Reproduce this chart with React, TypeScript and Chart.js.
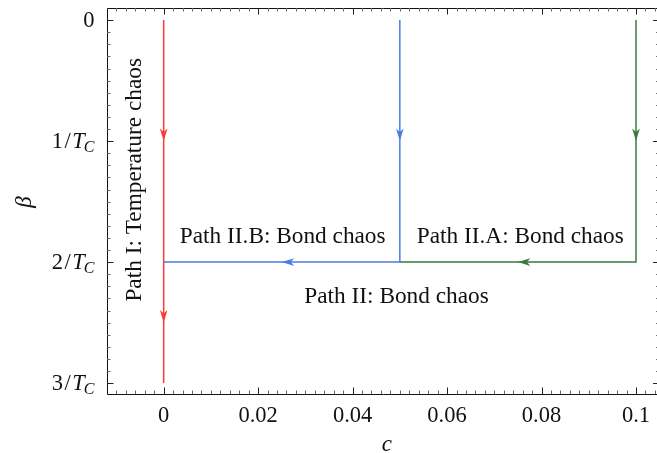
import { useEffect, useRef } from "react";
import { Chart, registerables } from "chart.js";

Chart.register(...registerables);

// ---- axis ranges & ticks ----
const X_MIN = -0.012;
const X_MAX = 0.105;
const Y_MIN = -0.1;
const Y_MAX = 3.09;
const xMajorTicks = [0, 0.02, 0.04, 0.06, 0.08, 0.1];
const xTickLabels = ["0", "0.02", "0.04", "0.06", "0.08", "0.1"];
const xMinorStep = 0.002;
const yMajorTicks = [0, 1, 2, 3];
const yTickNumerators = ["0", "1", "2", "3"]; // rendered as "0", "1/T_C", "2/T_C", "3/T_C"
const yMinorStep = 0.1;

// ---- paths (c, beta in units of 1/T_C) ----
const pathIX = [0, 0];
const pathIY = [0, 3];
const pathIIBX = [0.05, 0.05, 0];
const pathIIBY = [0, 2, 2];
const pathIIAX = [0.1, 0.1, 0.05];
const pathIIAY = [0, 2, 2];

const pathColors = ["#ff3838", "#4a7bea", "#3a7a3a"];

// arrows: x, y, direction
const arrowsI = [
  { x: 0, y: 1, dir: "down" },
  { x: 0, y: 2.5, dir: "down" },
];
const arrowsIIB = [
  { x: 0.05, y: 1, dir: "down" },
  { x: 0.025, y: 2, dir: "left" },
];
const arrowsIIA = [
  { x: 0.1, y: 1, dir: "down" },
  { x: 0.075, y: 2, dir: "left" },
];

// annotations
const annotations = [
  { text: "Path II.B: Bond chaos", x: 0.0252, y: 1.84, rotate: false },
  { text: "Path II.A: Bond chaos", x: 0.0755, y: 1.84, rotate: false },
  { text: "Path II: Bond chaos", x: 0.0493, y: 2.336, rotate: false },
  { text: "Path I: Temperature chaos", x: -0.0047, y: 1.32, rotate: true },
];

const SERIF = "'Liberation Serif', 'Times New Roman', serif";
const W = 662;
const H = 453;

function toPoints(xs: number[], ys: number[]) {
  return xs.map((x, i) => ({ x, y: ys[i] }));
}

function drawArrow(ctx: CanvasRenderingContext2D, px: number, py: number, dir: string, color: string) {
  const ang = dir === "down" ? Math.PI / 2 : dir === "left" ? Math.PI : dir === "up" ? -Math.PI / 2 : 0;
  ctx.save();
  ctx.translate(px, py);
  ctx.rotate(ang);
  ctx.beginPath();
  ctx.moveTo(0, 0);
  ctx.lineTo(-12.5, -3.8);
  ctx.lineTo(-9, 0);
  ctx.lineTo(-12.5, 3.8);
  ctx.closePath();
  ctx.fillStyle = color;
  ctx.fill();
  ctx.restore();
}

const decorPlugin = {
  id: "decor",
  afterDatasetsDraw(chart: any) {
    const ctx: CanvasRenderingContext2D = chart.ctx;
    const xs = chart.scales.x;
    const ys = chart.scales.y;
    const area = chart.chartArea;
    const right = xs.getPixelForValue(X_MAX);

    // arrows
    const arrowSets = [arrowsI, arrowsIIB, arrowsIIA];
    arrowSets.forEach((set, i) => {
      set.forEach((a) => {
        drawArrow(ctx, xs.getPixelForValue(a.x), ys.getPixelForValue(a.y), a.dir, pathColors[i]);
      });
    });

    // frame (left, top, bottom; right edge lies just outside the picture)
    ctx.save();
    ctx.strokeStyle = "#111";
    ctx.lineWidth = 1;
    const L = Math.round(area.left) + 0.5;
    const T = Math.round(area.top) + 0.5;
    const B = Math.round(area.bottom) + 0.5;
    ctx.beginPath();
    ctx.moveTo(right, T);
    ctx.lineTo(L, T);
    ctx.lineTo(L, B);
    ctx.lineTo(right, B);
    ctx.stroke();

    // ticks
    const tickX = (v: number, len: number, color: string) => {
      const px = Math.round(xs.getPixelForValue(v)) + 0.5;
      ctx.strokeStyle = color;
      ctx.beginPath();
      ctx.moveTo(px, area.bottom);
      ctx.lineTo(px, area.bottom - len);
      ctx.moveTo(px, area.top);
      ctx.lineTo(px, area.top + len);
      ctx.stroke();
    };
    const tickY = (v: number, len: number, color: string) => {
      const py = Math.round(ys.getPixelForValue(v)) + 0.5;
      ctx.strokeStyle = color;
      ctx.beginPath();
      ctx.moveTo(area.left, py);
      ctx.lineTo(area.left + len, py);
      ctx.moveTo(right, py);
      ctx.lineTo(right - len, py);
      ctx.stroke();
    };
    for (let i = -10; i < 60; i++) {
      const v = Math.round(i * xMinorStep * 1e6) / 1e6;
      if (v <= X_MIN || v >= X_MAX) continue;
      tickX(v, 3.5, "#666");
    }
    xMajorTicks.forEach((v) => tickX(v, 6.5, "#222"));
    for (let i = -5; i < 40; i++) {
      const v = Math.round(i * yMinorStep * 1e6) / 1e6;
      if (v <= Y_MIN || v >= Y_MAX) continue;
      tickY(v, 3.5, "#666");
    }
    yMajorTicks.forEach((v) => tickY(v, 6.5, "#222"));

    // x tick labels
    ctx.fillStyle = "#111";
    ctx.font = `22.5px ${SERIF}`;
    ctx.textAlign = "center";
    ctx.textBaseline = "alphabetic";
    xMajorTicks.forEach((v, i) => {
      ctx.fillText(xTickLabels[i], xs.getPixelForValue(v), area.bottom + 28);
    });

    // y tick labels
    const rightEdge = 94.5;
    yMajorTicks.forEach((v, i) => {
      const base = ys.getPixelForValue(v) + 7;
      const num = yTickNumerators[i];
      ctx.textAlign = "left";
      if (num === "0") {
        ctx.font = `22.5px ${SERIF}`;
        const w = ctx.measureText("0").width;
        ctx.fillText("0", rightEdge - w, base);
        return;
      }
      ctx.font = `22.5px ${SERIF}`;
      const wn = ctx.measureText(num).width;
      const ws = ctx.measureText("/").width;
      ctx.font = `italic 22.5px ${SERIF}`;
      const w2 = ctx.measureText("T").width;
      ctx.font = `italic 16px ${SERIF}`;
      const w3 = ctx.measureText("C").width;
      const gap = 1.5;
      const total = wn + gap + ws + gap + w2 - 1 + w3;
      let x0 = rightEdge - total;
      ctx.font = `22.5px ${SERIF}`;
      ctx.fillText(num, x0, base);
      x0 += wn + gap;
      ctx.fillText("/", x0, base);
      x0 += ws + gap;
      ctx.font = `italic 22.5px ${SERIF}`;
      ctx.fillText("T", x0, base);
      x0 += w2 - 1;
      ctx.font = `italic 16px ${SERIF}`;
      ctx.fillText("C", x0, base + 4);
    });

    // axis titles
    ctx.font = `italic 23px ${SERIF}`;
    ctx.textAlign = "center";
    ctx.textBaseline = "alphabetic";
    ctx.fillText("c", xs.getPixelForValue(0.04725), area.bottom + 57);
    ctx.save();
    ctx.translate(25, (area.top + area.bottom) / 2 + 1);
    ctx.rotate(-Math.PI / 2);
    ctx.textBaseline = "middle";
    ctx.fillText("β", 0, 0);
    ctx.restore();

    // annotations
    ctx.font = `23.3px ${SERIF}`;
    annotations.forEach((a) => {
      const px = xs.getPixelForValue(a.x);
      const py = ys.getPixelForValue(a.y);
      if (a.rotate) {
        ctx.save();
        ctx.translate(px, py);
        ctx.rotate(-Math.PI / 2);
        ctx.textAlign = "center";
        ctx.textBaseline = "alphabetic";
        ctx.fillText(a.text, 0, 0);
        ctx.restore();
      } else {
        ctx.textAlign = "center";
        ctx.textBaseline = "alphabetic";
        ctx.fillText(a.text, px, py);
      }
    });
    ctx.restore();
  },
};

export default function App() {
  const ref = useRef<HTMLCanvasElement | null>(null);
  useEffect(() => {
    document.body.style.overflow = "hidden";
    const canvas = ref.current!;
    const chart = new Chart(canvas, {
      type: "scatter",
      data: {
        datasets: [
          { data: toPoints(pathIX, pathIY), borderColor: pathColors[0] },
          { data: toPoints(pathIIBX, pathIIBY), borderColor: pathColors[1] },
          { data: toPoints(pathIIAX, pathIIAY), borderColor: pathColors[2] },
        ].map((d) => ({
          ...d,
          showLine: true,
          borderWidth: 1.5,
          pointRadius: 0,
          pointHoverRadius: 0,
          fill: false,
          tension: 0,
        })),
      },
      options: {
        animation: false,
        responsive: false,
        devicePixelRatio: 1,
        layout: { padding: { left: 107, top: 8, right: 2.4, bottom: 59 } },
        plugins: { legend: { display: false }, tooltip: { enabled: false } },
        scales: {
          x: { type: "linear", min: X_MIN, max: X_MAX, display: false },
          y: { type: "linear", min: Y_MIN, max: Y_MAX, reverse: true, display: false },
        },
      },
      plugins: [decorPlugin],
    });
    return () => chart.destroy();
  }, []);
  return (
    <div style={{ position: "fixed", left: 0, top: 0, width: W, height: H, background: "#fff" }}>
      <canvas ref={ref} width={W} height={H} style={{ display: "block" }} />
    </div>
  );
}
